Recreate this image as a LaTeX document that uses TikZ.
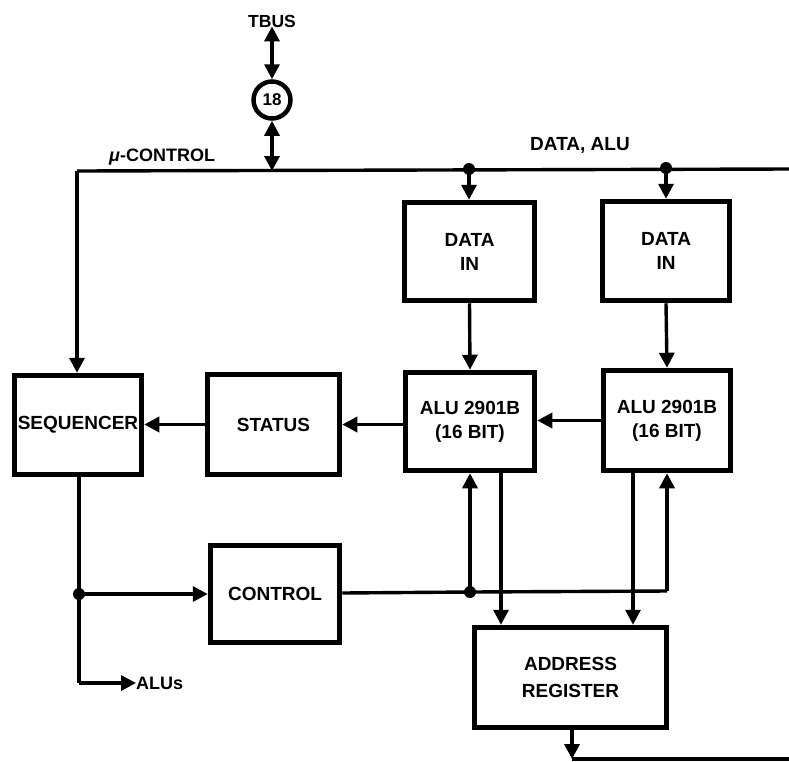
\documentclass[tikz,border=0pt]{standalone}
\usepackage{fontspec}
\setmainfont{Liberation Sans}
\usetikzlibrary{arrows.meta}
\tikzset{
  every node/.style={font=\bfseries\fontsize{19}{24}\selectfont, align=center, inner sep=0pt},
  blk/.style={draw, line width=5.5pt, rectangle},
  conn/.style={line width=3.4pt},
  arr/.style={conn, -{Triangle[length=15pt,width=15pt]}},
  darr/.style={conn, {Triangle[length=15pt,width=15pt]}-{Triangle[length=15pt,width=15pt]}},
  dot/.style={circle, fill, minimum size=12pt, inner sep=0pt},
  lbl/.style={font=\bfseries\fontsize{18}{22}\selectfont}
}
\begin{document}
\begin{tikzpicture}[x=1pt,y=-1pt]
\useasboundingbox (0,0) rectangle (789,761);
% blocks
\node[blk, minimum width=130pt, minimum height=98pt] (din1) at (469.5,251.5) {DATA\\IN};
\node[blk, minimum width=127pt, minimum height=99pt] (din2) at (666,251) {DATA\\IN};
\node[blk, minimum width=129pt, minimum height=98pt] (alu1) at (470,421.5) {ALU 2901B\\(16 BIT)};
\node[blk, minimum width=127pt, minimum height=100pt] (alu2) at (667,420.5) {ALU 2901B\\(16 BIT)};
\node[blk, minimum width=127pt, minimum height=99pt] (seq) at (78,425) {SEQUENCER};
\node[blk, minimum width=132pt, minimum height=100pt] (stat) at (273.5,424.5) {STATUS};
\node[blk, minimum width=129pt, minimum height=97pt] (ctrl) at (275,594) {CONTROL};
\node[blk, minimum width=192pt, minimum height=100pt, font=\bfseries\fontsize{19}{27}\selectfont] (addr) at (570.5,677.5) {ADDRESS\\REGISTER};
% TBUS and connector circle
\node[lbl, font=\bfseries\fontsize{17.5}{20}\selectfont] (tbus) at (272,21) {TBUS};
\node[circle, draw, line width=4.5pt, minimum size=37pt, font=\bfseries\fontsize{17}{18}\selectfont] (c18) at (272,100) {18};
\node[lbl, anchor=west] (muc) at (109,157) {\textit{μ}-CONTROL};
\node[lbl, font=\bfseries\fontsize{19}{22}\selectfont] (dalu) at (580,145) {DATA, ALU};
\node[lbl, anchor=west] (alus) at (136,683) {ALUs};
% bus coordinates
\coordinate (busR) at (789,169);
\coordinate (busL) at (77,171);
\coordinate (busT) at (272,171);
\coordinate (j1) at (469,169);
\coordinate (j2) at (666,168);
\node[dot] (d1) at (j1) {};
\node[dot] (d2) at (j2) {};
% TBUS links
\draw[darr] (tbus.south) ++(0,-1) -- (c18.north);
\draw[darr] (c18.south) -- (busT);
% bus
\draw[conn] (busR) -- (busL);
\draw[arr] (busL) -- (seq.north -| busL);
\draw[arr] (j1) -- (din1.north -| j1);
\draw[arr] (j2) -- (din2.north -| j2);
% data flow
\draw[arr] (din1.south) -- (alu1.north);
\draw[arr] (din2.south) -- (alu2.north);
\draw[arr] (alu2.west) -- (alu1.east |- alu2.west);
\draw[arr] (alu1.west |- stat.east) -- (stat.east);
\draw[arr] (stat.west) -- (seq.east |- stat.west);
% sequencer outputs
\coordinate (j3) at (79,594);
\coordinate (alusL) at (79,683);
\node[dot] (d3) at (j3) {};
\draw[conn] (seq.south -| j3) -- (j3) -- (alusL);
\draw[arr] (alusL) -- (alus.west);
\draw[arr] (j3) -- (ctrl.west |- j3);
% control to ALUs
\coordinate (j4) at (470,592);
\coordinate (c2) at (667,591);
\node[dot] (d4) at (j4) {};
\draw[conn] (ctrl.east |- 0,593) -- (j4) -- (c2);
\draw[arr] (c2) -- (alu2.south -| c2);
\draw[arr] (j4) -- (alu1.south -| j4);
% ALUs to address register
\coordinate (o1) at (501,473);
\coordinate (o2) at (633,473);
\draw[arr] (o1) -- (addr.north -| o1);
\draw[arr] (o2) -- (addr.north -| o2);
% address register output
\coordinate (ab) at (572,759);
\coordinate (abR) at (789,759);
\draw[arr] (addr.south -| ab) -- (ab);
\draw[conn] (ab) -- (abR);
\end{tikzpicture}
\end{document}
